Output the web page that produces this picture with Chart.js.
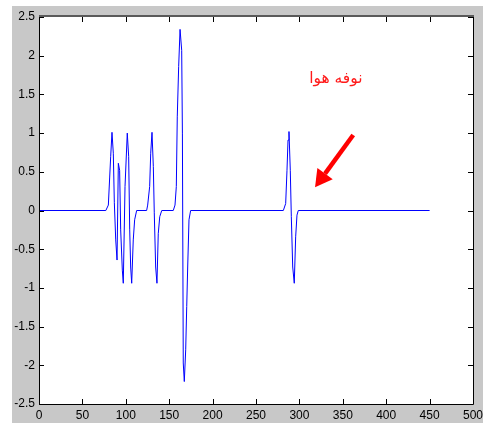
<!DOCTYPE html>
<html>
<head>
<meta charset="utf-8">
<script src="https://cdn.jsdelivr.net/npm/chart.js@4.4.1/dist/chart.umd.min.js"></script>
<style>
  html, body { margin: 0; padding: 0; background: #fff; }
  canvas { display: block; }
</style>
</head>
<body>
<canvas id="senal" width="483" height="423"></canvas>
<script>
// Datos (muestra vs amplitud)
const muestras = [0, 77, 79.9, 81.4, 82.6, 84.1, 85.6, 86.8, 88.4, 89.9, 91.4, 92.9, 94.1, 96.0, 97.1,
  99.1, 101.7, 103.3, 104.5, 105.6, 106.8, 108.6, 110.2, 112.5,
  124, 125.2, 127.5, 128.7, 130.2, 131.7, 132.8, 134.4, 135.9, 137.4, 139.1, 141.4,
  154.7, 156.7, 158.2, 159.3, 160.9, 162.5, 164.4, 165.2, 166.2, 167.4, 169.0, 170.2, 171.3, 172.8, 174.7,
  281.5, 284.2, 285.7, 286.9, 288.0, 289.5, 290.7, 292.3, 294.1, 295.7, 297.2, 298.7, 450];
const amplitud = [0, 0, 0.07, 0.42, 0.70, 1.01, 0.74, 0.10, -0.38, -0.64, 0.61, 0.52, -0.25, -0.77, -0.94,
  0.31, 1.0, 0.70, -0.25, -0.73, -0.94, -0.38, -0.12, 0,
  0, 0.07, 0.31, 0.74, 1.01, 0.57, -0.03, -0.73, -0.94, -0.30, -0.08, 0,
  0, 0.07, 0.31, 1.21, 1.86, 2.34, 2.07, 1.0, -1.97, -2.21, -1.80, -1.24, -0.73, -0.12, 0,
  0, 0.09, 0.52, 0.91, 1.02, 0.52, -0.08, -0.73, -0.94, -0.34, -0.06, 0, 0];

const ticksX = [0, 50, 100, 150, 200, 250, 300, 350, 400, 450, 500];
const ticksY = [-2.5, -2, -1.5, -1, -0.5, 0, 0.5, 1, 1.5, 2, 2.5];

// Anotación: texto y flecha (coordenadas de datos)
const etiqueta = 'نوفه هوا';
const posEtiqueta = [342, 1.705];
const flechaDesde = [362, 0.975];
const flechaHasta = [318, 0.30];

const puntos = muestras.map((x, i) => ({ x: x, y: amplitud[i] }));

const fondoPlugin = {
  id: 'fondo',
  beforeDraw(chart) {
    const ctx = chart.ctx;
    const a = chart.chartArea;
    ctx.save();
    ctx.fillStyle = '#ffffff';
    ctx.fillRect(0, 0, chart.width, chart.height);
    ctx.fillStyle = '#c8c8c8';
    ctx.fillRect(12, 6, chart.width - 12, chart.height - 6);
    ctx.fillStyle = '#ffffff';
    ctx.fillRect(a.left, a.top, a.right - a.left, a.bottom - a.top);
    ctx.restore();
  }
};

const marcoPlugin = {
  id: 'marco',
  afterDatasetsDraw(chart) {
    const ctx = chart.ctx;
    const a = chart.chartArea;
    const sx = chart.scales.x;
    const sy = chart.scales.y;
    ctx.save();
    ctx.strokeStyle = '#000';
    ctx.lineWidth = 1;
    ctx.beginPath();
    // marcas hacia dentro
    ticksX.forEach(v => {
      const px = Math.round(sx.getPixelForValue(v)) + 0.5;
      ctx.moveTo(px, a.bottom); ctx.lineTo(px, a.bottom - 5);
      ctx.moveTo(px, a.top); ctx.lineTo(px, a.top + 5);
    });
    ticksY.forEach(v => {
      const py = Math.round(sy.getPixelForValue(v)) + 0.5;
      ctx.moveTo(a.left, py); ctx.lineTo(a.left + 5, py);
      ctx.moveTo(a.right, py); ctx.lineTo(a.right - 5, py);
    });
    ctx.stroke();
    ctx.beginPath();
    ctx.moveTo(a.left + 0.5, a.top); ctx.lineTo(a.left + 0.5, a.bottom + 0.5);
    ctx.lineTo(a.right + 0.5, a.bottom + 0.5); ctx.lineTo(a.right + 0.5, a.top);
    ctx.stroke();
    ctx.strokeStyle = '#5a5a5a';
    ctx.lineWidth = 2;
    ctx.beginPath();
    ctx.moveTo(a.left, a.top - 1); ctx.lineTo(a.right + 1, a.top - 1);
    ctx.stroke();

    // texto y flecha roja
    ctx.fillStyle = '#ff1a1a';
    ctx.font = '15.5px "DejaVu Sans"';
    ctx.textAlign = 'center';
    ctx.textBaseline = 'middle';
    ctx.fillText(etiqueta, sx.getPixelForValue(posEtiqueta[0]), sy.getPixelForValue(posEtiqueta[1]));

    const x0 = sx.getPixelForValue(flechaDesde[0]), y0 = sy.getPixelForValue(flechaDesde[1]);
    const x1 = sx.getPixelForValue(flechaHasta[0]), y1 = sy.getPixelForValue(flechaHasta[1]);
    const ang = Math.atan2(y1 - y0, x1 - x0);
    const largo = 17, ancho = 9.5;
    const bx = x1 - largo * Math.cos(ang), by = y1 - largo * Math.sin(ang);
    ctx.strokeStyle = '#ff0000';
    ctx.lineWidth = 4.5;
    ctx.beginPath();
    ctx.moveTo(x0, y0); ctx.lineTo(bx, by);
    ctx.stroke();
    ctx.fillStyle = '#ff0000';
    ctx.beginPath();
    ctx.moveTo(x1, y1);
    ctx.lineTo(bx + ancho * Math.sin(ang), by - ancho * Math.cos(ang));
    ctx.lineTo(bx - ancho * Math.sin(ang), by + ancho * Math.cos(ang));
    ctx.closePath();
    ctx.fill();
    ctx.restore();
  }
};

new Chart(document.getElementById('senal'), {
  type: 'line',
  data: {
    datasets: [{
      data: puntos,
      borderColor: '#0000ff',
      borderWidth: 1,
      pointRadius: 0,
      tension: 0,
      fill: false
    }]
  },
  options: {
    responsive: false,
    animation: false,
    events: [],
    layout: { padding: { left: 0, top: 17, right: 10, bottom: 0 } },
    plugins: { legend: { display: false }, tooltip: { enabled: false } },
    scales: {
      x: {
        type: 'linear',
        min: 0, max: 500,
        afterFit(scale) {
          scale.height = 19;
          scale.paddingLeft = 0;
          scale.paddingRight = 0;
        },
        afterBuildTicks(scale) { scale.ticks = ticksX.map(v => ({ value: v })); },
        grid: { display: false, drawTicks: false },
        border: { display: false },
        ticks: {
          color: '#000', padding: 4, maxRotation: 0, autoSkip: false,
          callback: v => String(v),
          font: { family: '"Liberation Sans", Arial', size: 12 }
        }
      },
      y: {
        type: 'linear',
        min: -2.5, max: 2.5,
        afterFit(scale) {
          scale.width = 39;
          scale.paddingTop = 0;
          scale.paddingBottom = 0;
        },
        afterBuildTicks(scale) { scale.ticks = ticksY.map(v => ({ value: v })); },
        grid: { display: false, drawTicks: false },
        border: { display: false },
        ticks: {
          color: '#000', padding: 4, autoSkip: false,
          callback: v => String(v),
          font: { family: '"Liberation Sans", Arial', size: 12 }
        }
      }
    }
  },
  plugins: [fondoPlugin, marcoPlugin]
});
</script>
</body>
</html>
